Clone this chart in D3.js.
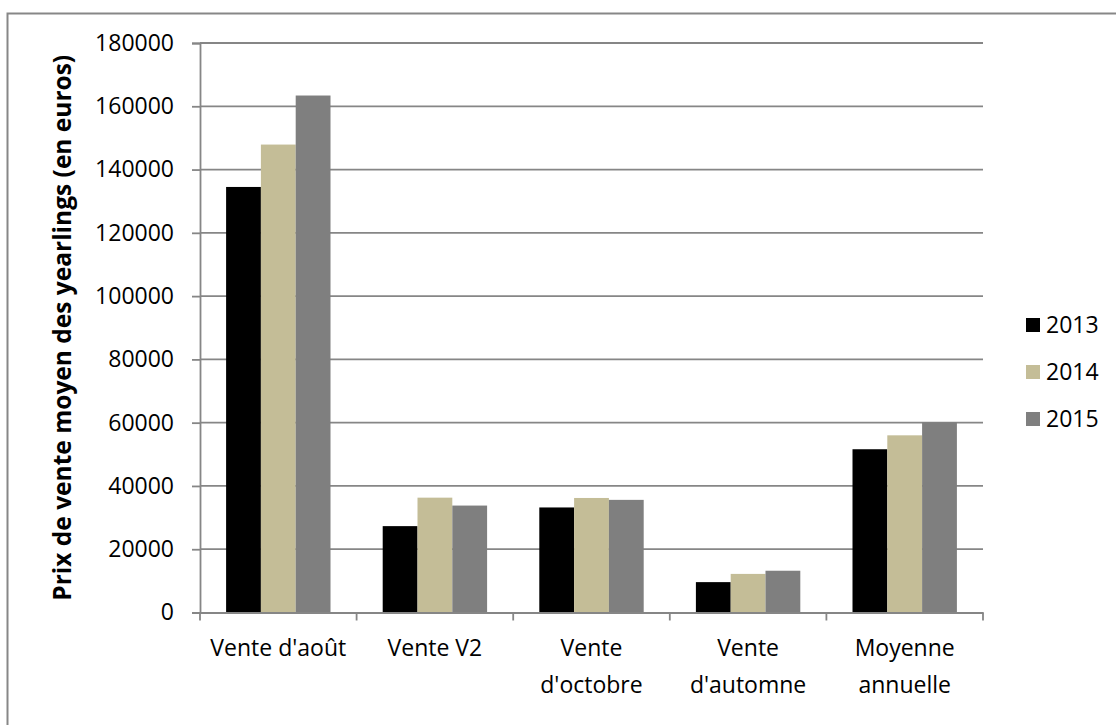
<!DOCTYPE html>
<html>
<head>
<meta charset="utf-8">
<script src="https://cdn.jsdelivr.net/npm/d3@7"></script>
<style>
  html, body { margin: 0; padding: 0; background: #fff; }
  svg { display: block; }
  text { font-family: "Open Sans", "Noto Sans", sans-serif; fill: #000; }
</style>
</head>
<body>
<svg id="chart" width="1116" height="725"></svg>
<script>
// Catégories de ventes et prix moyens des yearlings (en euros)
const categories = [["Vente d'août"], ["Vente V2"], ["Vente", "d'octobre"], ["Vente", "d'automne"], ["Moyenne", "annuelle"]];
const years = ["2013", "2014", "2015"];
const values2013 = [134500, 27300, 33200, 9600, 51600];
const values2014 = [147900, 36300, 36200, 12200, 56000];
const values2015 = [163400, 33800, 35600, 13200, 60100];
const yTicks = [0, 20000, 40000, 60000, 80000, 100000, 120000, 140000, 160000, 180000];
const colors = ["#000000", "#c4bd97", "#7f7f7f"];

const series = [values2013, values2014, values2015];
const catKeys = categories.map((c, i) => i);

const svg = d3.select("#chart");

// cadre extérieur
svg.append("rect")
  .attr("x", 7.5).attr("y", 13.5)
  .attr("width", 1200).attr("height", 800)
  .attr("fill", "none").attr("stroke", "#878787").attr("stroke-width", 2);

const plot = { left: 200, right: 983, top: 43, bottom: 612.5 };

const x = d3.scaleBand().domain(catKeys).range([plot.left, plot.right]).padding(0);
const xs = d3.scaleBand().domain(years).range([0, x.bandwidth()])
  .paddingInner(0).paddingOuter(0.75);
const y = d3.scaleLinear().domain([0, 180000]).range([plot.bottom, plot.top]);

// quadrillage horizontal
svg.append("g").selectAll("line").data(yTicks.filter(d => d > 0)).join("line")
  .attr("x1", plot.left).attr("x2", plot.right)
  .attr("y1", d => y(d)).attr("y2", d => y(d))
  .attr("stroke", "#868686").attr("stroke-width", 1.8);

// barres
const groups = svg.append("g").selectAll("g").data(catKeys).join("g")
  .attr("transform", d => `translate(${x(d)},0)`);
groups.selectAll("rect")
  .data(ci => years.map((yr, si) => ({ yr, si, v: series[si][ci] })))
  .join("rect")
  .attr("x", d => xs(d.yr))
  .attr("width", xs.bandwidth())
  .attr("y", d => y(d.v))
  .attr("height", d => y(0) - y(d.v))
  .attr("fill", d => colors[d.si]);

// axe vertical
const yAxis = d3.axisLeft(y).tickValues(yTicks).tickSize(8).tickPadding(18).tickFormat(d3.format("d"));
const gy = svg.append("g").attr("transform", `translate(${plot.left},0)`).call(yAxis);
gy.select(".domain").attr("stroke", "#868686").attr("stroke-width", 1.8);
gy.selectAll(".tick line").attr("stroke", "#868686").attr("stroke-width", 1.8);
gy.selectAll(".tick text").attr("font-size", 23).attr("font-family", "'Open Sans', sans-serif").attr("fill", "#000");

// axe horizontal
const xAxis = d3.axisBottom(x).tickValues([]).tickSizeOuter(0);
const gx = svg.append("g").attr("transform", `translate(0,${plot.bottom})`).call(xAxis);
gx.select(".domain").attr("stroke", "#868686").attr("stroke-width", 1.8);
const bounds = catKeys.map(k => x(k)).concat([plot.right]);
gx.selectAll(".bound").data(bounds).join("line")
  .attr("class", "bound")
  .attr("x1", d => d).attr("x2", d => d)
  .attr("y1", 0).attr("y2", 8)
  .attr("stroke", "#868686").attr("stroke-width", 1.8);

// étiquettes des catégories
const labels = svg.append("g").selectAll("text").data(catKeys).join("text")
  .attr("x", d => x(d) + x.bandwidth() / 2)
  .attr("y", 656)
  .attr("text-anchor", "middle")
  .attr("font-size", 23);
labels.selectAll("tspan").data(d => categories[d]).join("tspan")
  .attr("x", function () { return d3.select(this.parentNode).attr("x"); })
  .attr("dy", (d, i) => i === 0 ? 0 : 37)
  .text(d => d);

// titre de l'axe vertical
svg.append("text")
  .attr("transform", `translate(71,${(plot.top + plot.bottom) / 2}) rotate(-90)`)
  .attr("text-anchor", "middle")
  .attr("font-size", 24.5)
  .attr("font-weight", "bold")
  .text("Prix de vente moyen des yearlings (en euros)");

// légende
const legend = svg.append("g").selectAll("g").data(years).join("g")
  .attr("transform", (d, i) => `translate(1026,${318 + i * 47})`);
legend.append("rect").attr("width", 14).attr("height", 14)
  .attr("fill", (d, i) => colors[i]);
legend.append("text").attr("x", 20).attr("y", 15)
  .attr("font-size", 23).text(d => d);
</script>
</body>
</html>
